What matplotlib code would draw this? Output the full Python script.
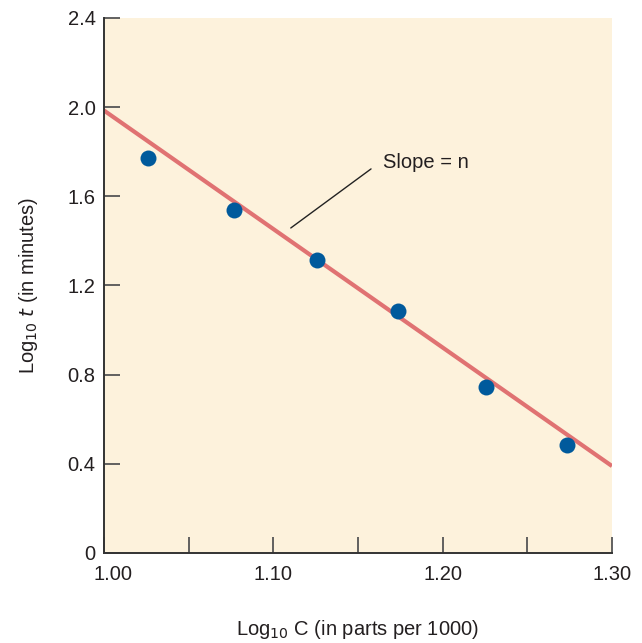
import numpy as np
import matplotlib
matplotlib.use("Agg")
import matplotlib.pyplot as plt
import matplotlib.transforms as mtransforms

plt.rcParams["font.family"] = ["Liberation Sans", "DejaVu Sans"]

# data
log_c = [1.026, 1.0765, 1.1257, 1.1737, 1.2253, 1.2733]
log_t = [1.77, 1.54, 1.315, 1.085, 0.745, 0.485]
fit_x = [1.00, 1.30]
fit_y = [1.985, 0.39]

x_ticks = [1.00, 1.05, 1.10, 1.15, 1.20, 1.25, 1.30]
x_labels = ["1.00", "", "1.10", "", "1.20", "", "1.30"]
y_ticks = [0, 0.4, 0.8, 1.2, 1.6, 2.0, 2.4]
y_labels = ["0", "0.4", "0.8", "1.2", "1.6", "2.0", "2.4"]

txt = "#231f20"
bg = "#fdf2dc"
dot = "#005a9c"
line_c = "#e07272"
fs = 14.5

fig = plt.figure(figsize=(6.42, 6.43), dpi=100)
ax = fig.add_axes([104 / 642, 90 / 643, 508 / 642, 535 / 643])
ax.set_facecolor(bg)

ax.plot(fit_x, fit_y, color=line_c, lw=3, solid_capstyle="butt", zorder=2)
ax.plot(log_c, log_t, "o", color=dot, ms=11.5, mec="none", zorder=3)

ax.set_xlim(1.00, 1.30)
ax.set_ylim(0, 2.4)
for s in ("top", "right"):
    ax.spines[s].set_visible(False)
for s in ("left", "bottom"):
    ax.spines[s].set_linewidth(1.4)
    ax.spines[s].set_color("#333333")

ax.set_xticks(x_ticks)
ax.set_xticklabels(x_labels)
ax.set_yticks(y_ticks)
ax.set_yticklabels(y_labels)
ax.tick_params(direction="in", length=11.5, width=1.3, color="#555555",
               labelsize=fs, labelcolor=txt)
ax.tick_params(axis="x", pad=9)
ax.tick_params(axis="y", pad=6)

# first x label sits slightly right of the axis corner in the original
lab0 = ax.get_xticklabels()[0]
lab0.set_transform(lab0.get_transform() +
                   mtransforms.ScaledTranslation(9 / 100, 0, fig.dpi_scale_trans))

ax.set_xlabel("Log$_{10}$ C (in parts per 1000)", fontsize=fs, color=txt,
              labelpad=24)
ax.set_ylabel("Log$_{10}$ $t$ (in minutes)", fontsize=fs, color=txt,
              labelpad=20)

# slope callout
ax.annotate("", xy=(1.1103, 1.458), xytext=(1.1577, 1.723),
            arrowprops=dict(arrowstyle="-", color="#222222", lw=1.0,
                            shrinkA=0, shrinkB=0))
ax.text(1.1648, 1.754, "Slope = n", fontsize=fs, color=txt,
        ha="left", va="center")

fig.savefig("out.png", dpi=100)
